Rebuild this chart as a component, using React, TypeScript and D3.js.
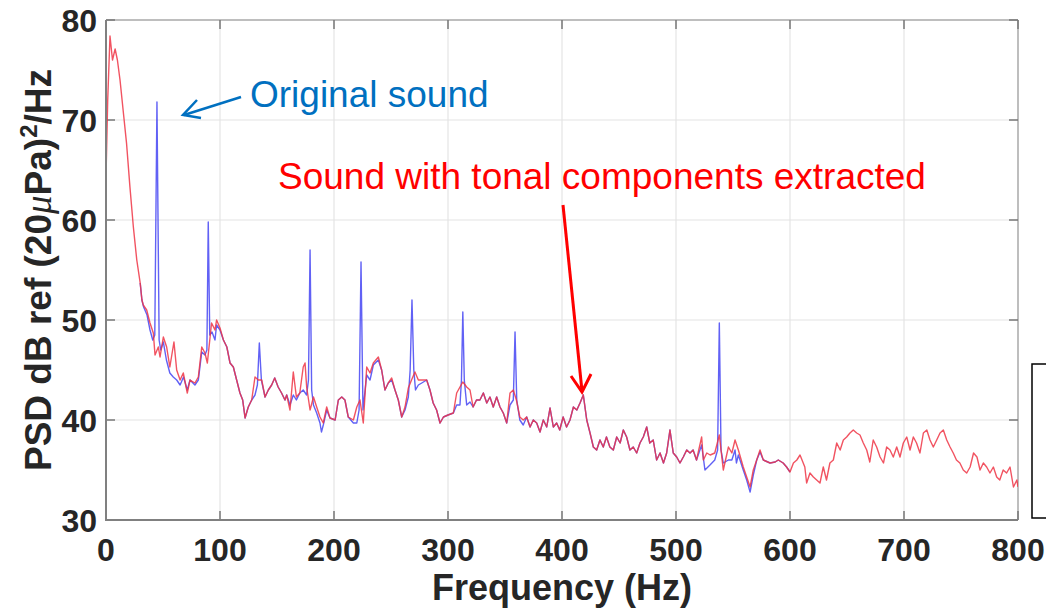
import React from "react";
import * as d3 from "d3";

// Frequency (Hz) and PSD (dB) — sound with tonal components extracted (red)
const redSeries: [number, number][] = [
  [0, 64.3], [1.5, 72], [3.5, 78.4], [5.7, 76], [8, 77.1], [10, 76], [12.3, 74], [15, 71], [18, 67.7],
  [21, 63.3], [24, 59.3], [27, 56], [30, 53.7], [31.5, 52], [32.7, 51.5], [35.7, 51], [38.6, 49.7],
  [41.5, 48.7], [43, 46.5], [45.9, 47.3], [47.4, 46.3], [50.3, 48.3], [53.2, 47.3], [56, 45.3],
  [59.6, 47.8], [62, 45], [65, 44], [67.8, 44.7], [71.3, 42.7], [73.7, 44], [78, 43.7], [81, 44.3],
  [84, 47.3], [86.8, 46.7], [88.9, 45.7], [92.6, 49.7], [95.6, 49], [97, 50], [100, 49.2], [103, 48],
  [106, 47.3], [108.8, 45.7], [111.7, 45.3], [114.6, 44], [117.5, 42.7], [119.9, 42], [122, 40.2],
  [124.8, 41.3], [127.8, 42], [130.7, 44.3], [133.6, 44], [136.6, 44], [139.5, 42.3], [142.4, 43],
  [145.3, 43.5], [148, 44.2], [151, 43.3], [154, 42.7], [157, 42], [158.5, 42.5], [161.4, 41],
  [164.3, 44.8], [167, 42.3], [170, 42.7], [173, 45.3], [174.6, 45.7], [176, 43.3], [179, 41],
  [182, 42.3], [184.8, 41.3], [187.7, 40.3], [190.6, 39.7], [193.6, 41.3], [196.5, 40.2], [201, 40],
  [203.8, 42], [206.8, 42.3], [209.6, 42], [212.5, 40.3], [217, 40], [220, 41.3], [222.8, 42],
  [225.7, 39.7], [228.7, 45.3], [231.6, 44.7], [234.5, 45.7], [238.9, 46.3], [241.8, 45], [244.7, 43],
  [247.6, 43.7], [250.6, 44.2], [253.5, 43], [256.4, 42], [259.4, 40.3], [262.3, 41.3], [265.2, 43.2],
  [268, 44], [271, 44.8], [274, 44], [277, 44], [281.3, 44], [284.2, 43], [287, 41.7], [290, 41],
  [293, 39.7], [296, 40.3], [300, 40.5], [304.7, 40.7], [307.6, 42.7], [310.5, 43.3], [313, 43.8],
  [316.4, 43.3], [319.3, 43], [322, 41.3], [325, 42], [328, 42], [331, 42.7], [334, 41.7], [336.8, 42.3],
  [339.7, 41.3], [342.7, 42.3], [345.6, 41.3], [348.5, 40.7], [351.5, 39.7], [354.4, 42.7], [357.3, 43],
  [360, 42], [363, 40.3], [366, 40], [369, 40.3], [372, 39.3], [374.8, 40], [377.8, 39.7], [380.7, 38.8],
  [383.6, 40], [386.6, 39.3], [389.5, 41.2], [392.4, 39.3], [395.3, 39.7], [398, 39], [401, 40.3],
  [404, 39.3], [407, 40], [410, 41.3], [413, 41], [415.8, 41.7], [418.7, 42.5], [421.7, 40], [424.6, 38.7],
  [427.5, 37.3], [430.4, 37], [433.3, 38], [436.2, 37.3], [439, 38.3], [442, 37.3], [445, 37], [448, 38.3],
  [451, 37.7], [453.8, 39], [456.7, 38.3], [459.6, 37], [462.5, 37.3], [465.5, 36.7], [468.4, 37.7],
  [471.3, 38.3], [474.3, 39.3], [477, 37.7], [480, 38], [483, 36], [486, 36.7], [489, 35.7], [491.8, 36.7],
  [494.7, 39], [497.6, 36.7], [500.6, 36.3], [503.5, 35.7], [506.4, 36.3], [509.4, 37], [512.3, 36.7],
  [515, 37], [518, 36], [522.5, 38.3], [524, 36], [527, 36.7], [530, 36.5], [534, 36.7], [538, 38.5],
  [541.5, 35], [546, 37.3], [549, 36.7], [551.8, 38], [554.7, 37], [559, 35.3], [562, 34.3], [565, 33.3],
  [567.8, 35], [570.8, 36], [573.7, 37], [576.6, 36], [582.5, 35.7], [587, 35.8], [589.7, 36], [594, 35.7],
  [597, 35.3], [600, 34.8], [603, 35.7], [606, 36], [608.8, 36.5], [613, 35.3], [614.6, 33.7], [617.5, 34.7],
  [620.5, 34.3], [623.4, 34], [626.3, 33.7], [629.2, 35.3], [632, 34], [635, 35.7], [638, 36], [641, 37.7],
  [644, 37], [646.8, 38], [649.7, 38.3], [652.6, 38.7], [655.5, 39], [658.5, 38.7], [661.4, 38.5],
  [664.3, 37.7], [667.3, 37], [670, 35.8], [673, 38], [676, 37.3], [679, 36.3], [682, 35.7], [684.8, 37.3],
  [687.7, 37], [690.6, 36.3], [693.6, 37.3], [696.5, 36.3], [699.4, 37.7], [702.4, 38.3], [705.3, 37],
  [708.2, 38.3], [711, 37.7], [714, 36.7], [717, 38.7], [720, 39], [722.8, 38], [725.7, 37.3], [728.7, 38],
  [731.6, 38.7], [734.5, 39], [737.5, 38], [740.4, 37.3], [743.2, 36.7], [746, 36], [749, 35.7], [752, 35],
  [755, 34.7], [758, 35.3], [761, 36.7], [764, 36.3], [766.7, 35], [769.6, 35.7], [772.5, 35.3],
  [775.4, 34.7], [778.4, 35.3], [781.3, 34.3], [784, 34], [787, 35], [790, 34.7], [793, 35.3], [796, 33.3],
  [799, 34], [800, 33.3],
];

// Original sound (blue) — tonal peaks at harmonics (hidden under red below 30 Hz and above 600 Hz)
const blueSeries: [number, number][] = [
  [30, 53.7], [31.5, 52], [33, 51.3], [36, 50.5], [38.6, 49], [41, 48],
  [42.8, 48.5], [44.7, 71.8], [46.6, 48], [48, 47], [50.3, 47.8], [53, 46], [56, 44.7], [59, 44.3],
  [62, 44], [65, 43.5], [68, 44.3], [71.3, 43], [73.7, 44], [78, 43.5], [81, 44], [84, 46.8], [86.8, 46.5],
  [88.5, 47], [89.7, 59.8], [91, 48.5], [93, 48.8], [95.6, 48], [97, 49.5], [100, 49], [103, 48],
  [106, 47.3], [108.8, 45.7], [111.7, 45.3], [114.6, 44], [117.5, 42.7], [119.9, 42], [122, 40.2],
  [124.8, 41.3], [127.8, 42], [130.7, 42.5], [132.8, 43.5], [134.5, 47.7], [136.3, 44], [139.5, 42.3],
  [142.4, 43], [145.3, 43.5], [148, 44.2], [151, 43.3], [154, 42.7], [157, 42], [158.5, 42.5],
  [161.4, 41.5], [164.3, 42.5], [167, 42], [170, 42.7], [173, 43], [176, 42.5], [177.6, 44], [179, 57],
  [180.4, 43], [182, 41.5], [184.8, 40.7], [187.7, 39.7], [189, 38.8], [190.6, 39.5], [193.6, 41],
  [196.5, 40.2], [201, 40], [203.8, 42], [206.8, 42.3], [209.6, 42], [212.5, 40.3], [217, 39.7], [220, 39.7],
  [222, 41], [223.7, 55.8], [225.4, 41], [228.7, 44.5], [231.6, 44], [234.5, 45.5], [238.9, 46], [241.8, 45],
  [244.7, 43], [247.6, 43.7], [250.6, 44], [253.5, 43], [256.4, 42], [259.4, 40.3], [262.3, 41],
  [265.2, 42.3], [266.8, 45], [268.4, 52], [270, 45], [271.5, 43], [274, 43.5], [277, 43.7], [281.3, 44],
  [284.2, 43], [287, 41.7], [290, 41], [293, 39.7], [296, 40.3], [300, 40.5], [304.7, 40.7], [307.6, 41.5],
  [310.5, 41.5], [311.8, 44], [313, 50.8], [314.3, 44], [316.4, 41.5], [319.3, 41.8], [322, 41.3], [325, 42],
  [328, 42], [331, 42.7], [334, 41.7], [336.8, 42.3], [339.7, 41.3], [342.7, 42.3], [345.6, 41.3],
  [348.5, 40.7], [351.5, 39.7], [354.4, 41.5], [357.3, 42], [358.8, 48.8], [360.3, 42], [363, 40],
  [366, 39.5], [369, 40.3], [372, 39.3], [374.8, 40], [377.8, 39.7], [380.7, 38.8], [383.6, 40],
  [386.6, 39.3], [389.5, 41.2], [392.4, 39.3], [395.3, 39.7], [398, 39], [401, 40.3], [404, 39.3], [407, 40],
  [410, 41.3], [413, 41], [415.8, 41.7], [418.7, 42.5], [421.7, 40], [424.6, 38.7], [427.5, 37.3],
  [430.4, 37], [433.3, 38], [436.2, 37.3], [439, 38.3], [442, 37.3], [445, 37], [448, 38.3], [451, 37.7],
  [453.8, 39], [456.7, 38.3], [459.6, 37], [462.5, 37.3], [465.5, 36.7], [468.4, 37.7], [471.3, 38.3],
  [474.3, 39.3], [477, 37.7], [480, 38], [483, 36], [486, 36.7], [489, 35.7], [491.8, 36.7], [494.7, 39],
  [497.6, 36.7], [500.6, 36.3], [503.5, 35.7], [506.4, 36.3], [509.4, 37], [512.3, 36.7], [515, 37],
  [518, 36], [522.5, 37.5], [525.4, 35], [529.8, 35.5], [534, 36], [536.5, 37], [538, 49.7], [539.5, 37],
  [541.5, 35.7], [546, 36], [549, 36], [551.8, 37], [553, 35.7], [554.7, 36.5], [559, 35], [562, 34],
  [565, 32.8], [567.8, 34.5], [570.8, 36], [573.7, 36.8], [576.6, 36], [582.5, 35.7], [587, 35.8],
  [589.7, 36], [594, 35.7], [597, 35.3], [600, 34.8],
];

const xTicks = [0, 100, 200, 300, 400, 500, 600, 700, 800];
const yTicks = [30, 40, 50, 60, 70, 80];

const W = 1046;
const H = 612;
const M = { left: 106, right: 1018, top: 20, bottom: 520 };

export default function App() {
  const x = d3.scaleLinear().domain([0, 800]).range([M.left, M.right]);
  const y = d3.scaleLinear().domain([30, 80]).range([M.bottom, M.top]);
  const line = d3
    .line<[number, number]>()
    .x((d) => x(d[0]))
    .y((d) => y(d[1]));

  const font = "'Liberation Sans', Arial, sans-serif";
  const tickColor = "#262626";

  return (
    <div style={{ position: "absolute", left: 0, top: 0 }}>
      <svg width={W} height={H} style={{ display: "block", background: "#fff" }}>
        <defs>
          <clipPath id="plotClip">
            <rect x={M.left} y={M.top} width={M.right - M.left} height={M.bottom - M.top} />
          </clipPath>
        </defs>
        {/* grid */}
        {xTicks.slice(1, -1).map((t) => (
          <line key={"gx" + t} x1={x(t)} x2={x(t)} y1={M.top} y2={M.bottom} stroke="#e4e4e4" strokeWidth={1.2} />
        ))}
        {yTicks.slice(1, -1).map((t) => (
          <line key={"gy" + t} x1={M.left} x2={M.right} y1={y(t)} y2={y(t)} stroke="#e4e4e4" strokeWidth={1.2} />
        ))}
        {/* box: top/right */}
        <line x1={M.left} x2={M.right} y1={M.top} y2={M.top} stroke="#a8a8a8" strokeWidth={1.5} />
        <line x1={M.right} x2={M.right} y1={M.top} y2={M.bottom} stroke="#a8a8a8" strokeWidth={1.5} />
        {/* ticks */}
        {xTicks.map((t) => (
          <g key={"tx" + t}>
            <line x1={x(t)} x2={x(t)} y1={M.bottom} y2={M.bottom - 9} stroke="#777" strokeWidth={1.5} />
            <line x1={x(t)} x2={x(t)} y1={M.top} y2={M.top + 9} stroke="#777" strokeWidth={1.5} />
          </g>
        ))}
        {yTicks.map((t) => (
          <g key={"ty" + t}>
            <line x1={M.left} x2={M.left + 9} y1={y(t)} y2={y(t)} stroke="#777" strokeWidth={1.5} />
            <line x1={M.right} x2={M.right - 9} y1={y(t)} y2={y(t)} stroke="#777" strokeWidth={1.5} />
          </g>
        ))}
        {/* data */}
        <g clipPath="url(#plotClip)">
          <path d={line(blueSeries) || ""} fill="none" stroke="#3a3af2" strokeOpacity={0.8} strokeWidth={1.4} strokeLinejoin="round" />
          <path d={line(redSeries) || ""} fill="none" stroke="#ef3545" strokeOpacity={0.85} strokeWidth={1.4} strokeLinejoin="round" />
        </g>
        {/* left/bottom axes */}
        <line x1={M.left} x2={M.left} y1={M.top} y2={M.bottom + 1} stroke="#808080" strokeWidth={2} />
        <line x1={M.left - 1} x2={M.right} y1={M.bottom} y2={M.bottom} stroke="#808080" strokeWidth={2} />
        {/* tick labels */}
        {xTicks.map((t) => (
          <text key={"lx" + t} x={x(t)} y={561} textAnchor="middle" fontFamily={font} fontWeight="bold" fontSize={32} fill={tickColor}>
            {t}
          </text>
        ))}
        {yTicks.map((t) => (
          <text key={"ly" + t} x={97} y={y(t) + 12} textAnchor="end" fontFamily={font} fontWeight="bold" fontSize={32} fill={tickColor}>
            {t}
          </text>
        ))}
        {/* axis titles */}
        <text x={562} y={600} textAnchor="middle" fontFamily={font} fontWeight="bold" fontSize={36} fill={tickColor}>
          Frequency (Hz)
        </text>
        <text transform="translate(51,270) rotate(-90)" textAnchor="middle" fontFamily={font} fontWeight="bold" fontSize={37} fill={tickColor}>
          PSD dB ref (20
          <tspan fontFamily="'Liberation Serif', 'DejaVu Serif', serif" fontStyle="italic" fontWeight="normal">μ</tspan>
          Pa)
          <tspan fontSize={24} dy={-14}>2</tspan>
          <tspan dy={14}>/Hz</tspan>
        </text>
        {/* annotations */}
        <text x={250} y={107} fontFamily={font} fontSize={37} fill="#0070c0">
          Original sound
        </text>
        <line x1={241} y1={97} x2={184} y2={115} stroke="#0070c0" strokeWidth={2.5} />
        <polyline points="197,100 183,115 201,118" fill="none" stroke="#0070c0" strokeWidth={2.5} />
        <text x={278} y={189} fontFamily={font} fontSize={37} fill="#ff0000">
          Sound with tonal components extracted
        </text>
        <line x1={563} y1={205} x2={582} y2={391} stroke="#ff0000" strokeWidth={3} />
        <polyline points="571,376 582,392 591,374" fill="none" stroke="#ff0000" strokeWidth={3} />
        {/* partial legend box */}
        <rect x={1032} y={364} width={40} height={154} fill="#fff" stroke="#000" strokeWidth={1.5} />
      </svg>
    </div>
  );
}
